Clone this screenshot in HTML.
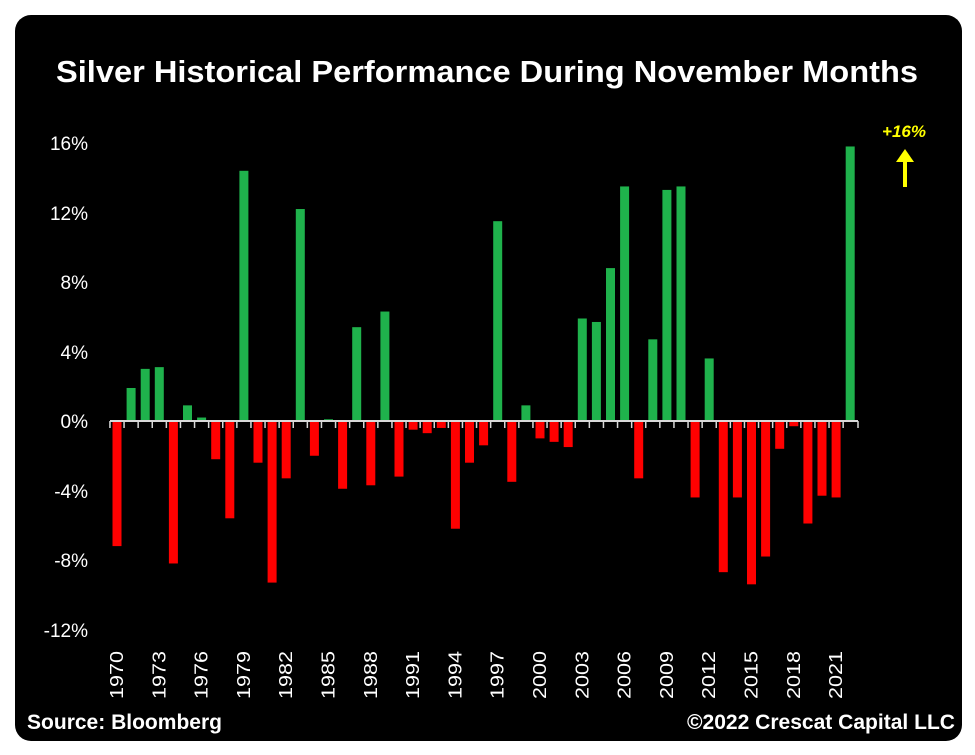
<!DOCTYPE html>
<html><head><meta charset="utf-8"><style>
html,body{margin:0;padding:0;background:#fff;}
svg{display:block;}
text{font-family:"Liberation Sans",sans-serif;fill:#fff;}
</style></head><body>
<svg width="975" height="755" viewBox="0 0 975 755" xmlns="http://www.w3.org/2000/svg">
<rect x="0" y="0" width="975" height="755" fill="#fff"/>
<rect x="15" y="15" width="947" height="726" rx="16" fill="#000"/>
<text x="487" y="82" font-size="31" font-weight="bold" text-anchor="middle" textLength="862" lengthAdjust="spacingAndGlyphs">Silver Historical Performance During November Months</text>
<g font-size="19" text-anchor="end">
<text x="88" y="150">16%</text>
<text x="88" y="220">12%</text>
<text x="88" y="289">8%</text>
<text x="88" y="359">4%</text>
<text x="88" y="428">0%</text>
<text x="88" y="498">-4%</text>
<text x="88" y="567">-8%</text>
<text x="88" y="637">-12%</text>
</g>
<g id="bars"></g>
<line x1="110" y1="421" x2="858" y2="421" stroke="#d9d9d9" stroke-width="2"/>
<g id="ticks" stroke="#d9d9d9" stroke-width="1.5"></g>
<g id="years" font-size="18"></g>
<text x="27" y="729" font-size="21" font-weight="bold" textLength="195" lengthAdjust="spacingAndGlyphs">Source: Bloomberg</text>
<text x="955" y="729" font-size="21" font-weight="bold" text-anchor="end" textLength="268" lengthAdjust="spacingAndGlyphs">©2022 Crescat Capital LLC</text>
<text x="904" y="137" font-size="17" font-weight="bold" font-style="italic" fill="#ffff00" style="fill:#ffff00" text-anchor="middle">+16%</text>
<line x1="905" y1="187" x2="905" y2="160" stroke="#ffff00" stroke-width="4"/>
<polygon points="896,162 914,162 905,149" fill="#ffff00"/>
</svg>
<script>
var v=[-7.2,1.9,3.0,3.1,-8.2,0.9,0.2,-2.2,-5.6,14.4,-2.4,-9.3,-3.3,12.2,-2.0,0.1,-3.9,5.4,-3.7,6.3,-3.2,-0.5,-0.7,-0.4,-6.2,-2.4,-1.4,11.5,-3.5,0.9,-1.0,-1.2,-1.5,5.9,5.7,8.8,13.5,-3.3,4.7,13.3,13.5,-4.4,3.6,-8.7,-4.4,-9.4,-7.8,-1.6,-0.3,-5.9,-4.3,-4.4,15.8];
var ns="http://www.w3.org/2000/svg",b=document.getElementById('bars'),t=document.getElementById('ticks'),y=document.getElementById('years');
var s=17.375,z=421;
v.forEach(function(d,i){var cx=117+i*14.1;var r=document.createElementNS(ns,'rect');
var h=Math.abs(d)*s;r.setAttribute('x',cx-4.5);r.setAttribute('width',9);
r.setAttribute('y',d>=0?z-h:z);r.setAttribute('height',h);r.setAttribute('fill',d>=0?'#1fb24c':'#ff0000');b.appendChild(r);
var l=document.createElementNS(ns,'line');var tx=cx-7.05;l.setAttribute('x1',tx);l.setAttribute('x2',tx);l.setAttribute('y1',z);l.setAttribute('y2',z+7);t.appendChild(l);
if(i%3==0){var tt=document.createElementNS(ns,'text');tt.setAttribute('transform','translate('+(cx+6)+',699) rotate(-90)');tt.setAttribute('textLength','48');tt.setAttribute('lengthAdjust','spacingAndGlyphs');tt.textContent=1970+i;y.appendChild(tt);}
});
var l=document.createElementNS(ns,'line');l.setAttribute('x1',858);l.setAttribute('x2',858);l.setAttribute('y1',z);l.setAttribute('y2',z+7);t.appendChild(l);
</script>
</body></html>
